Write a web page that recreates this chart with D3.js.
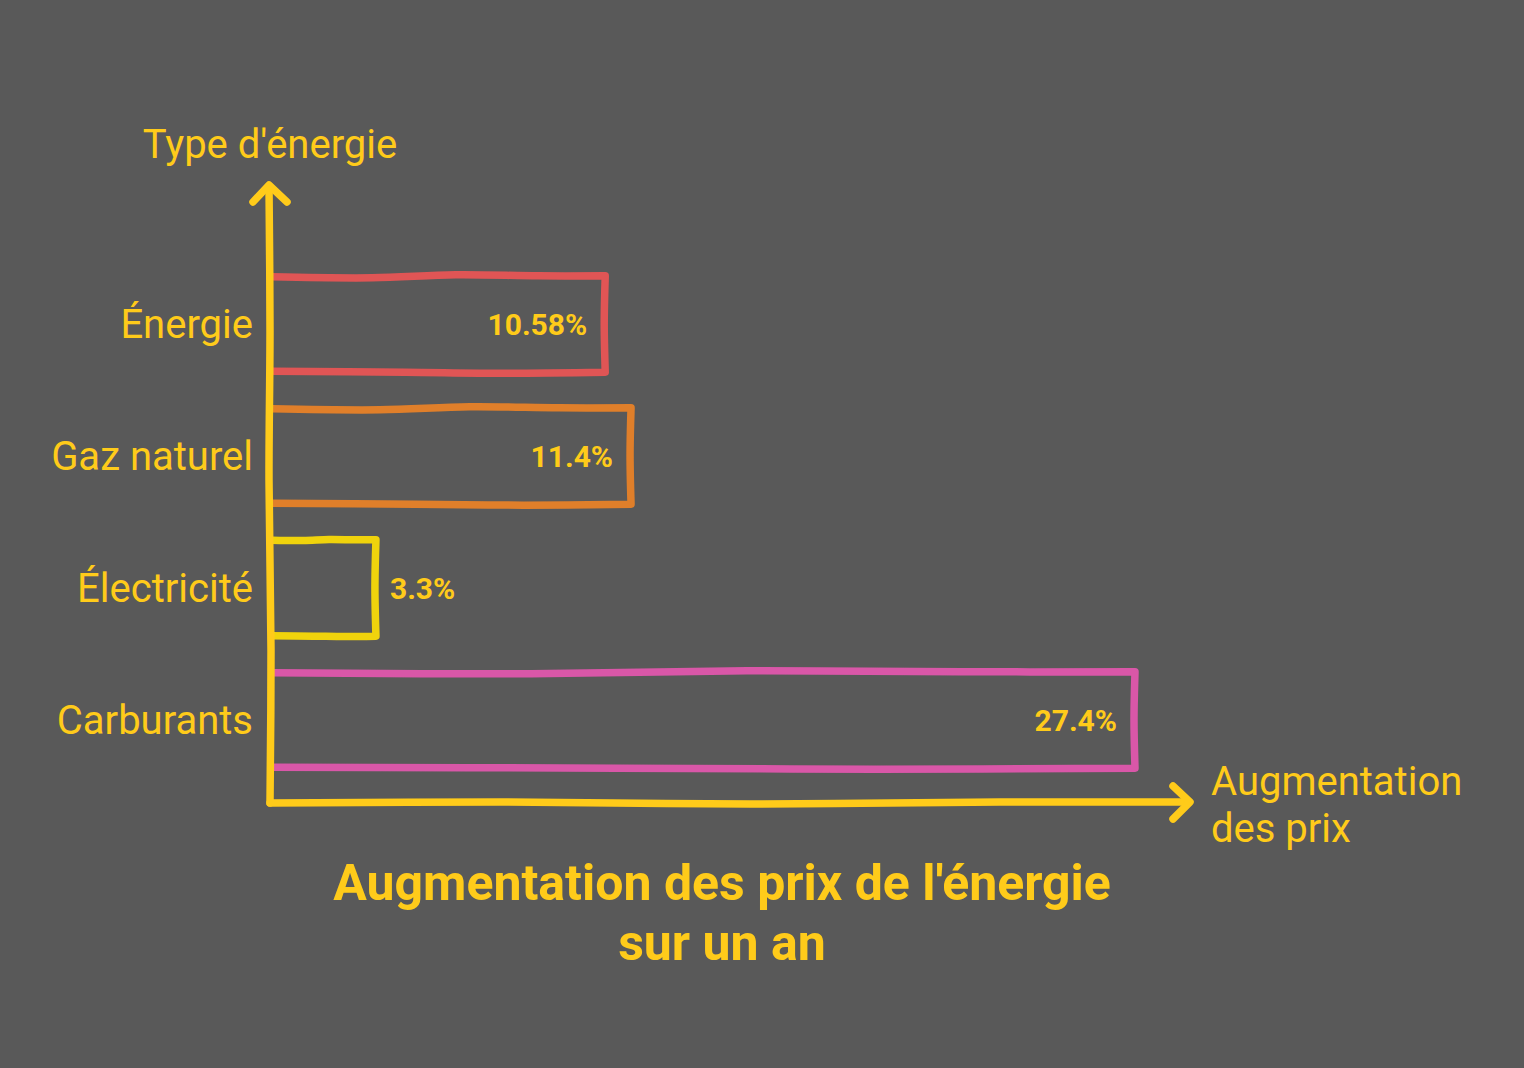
<!DOCTYPE html>
<html><head><meta charset="utf-8">
<script src="https://cdn.jsdelivr.net/npm/d3@7"></script>
<style>html,body{margin:0;padding:0;background:#595959;}svg{display:block;font-family:Roboto,sans-serif;}</style>
</head><body>
<svg id="c" width="1524" height="1068"></svg>
<script>
const categories = ["Énergie", "Gaz naturel", "Électricité", "Carburants"];
const values = [10.58, 11.4, 3.3, 27.4];
const valueLabels = ["10.58%", "11.4%", "3.3%", "27.4%"];
const colors = ["#E05555", "#E07F2A", "#F0D30C", "#D957A8"];
const yTitle = "Type d'énergie";
const xTitle = ["Augmentation", "des prix"];
const title = ["Augmentation des prix de l'énergie", "sur un an"];

const ink = "#FFCB1A";
const svg = d3.select("#c");
svg.append("rect").attr("width",1524).attr("height",1068).attr("fill","#595959");

const x = d3.scaleLinear().domain([0, 27.4]).range([272, 1135]);
const y = d3.scaleBand().domain(categories).range([258, 786]).paddingInner(0.27).paddingOuter(0.135);

const line = d3.line().curve(d3.curveCatmullRom.alpha(0.5));
// hand-drawn-ish outline with small fixed wobble
function sketchRect(x0, y0, x1, y1) {
  const w = x1 - x0;
  const k = Math.min(1, w / 300);
  const top = [[x0, y0+1*k],[x0+w*0.3, y0+2*k],[x0+w*0.55, y0-1*k],[x0+w*0.8, y0],[x1, y0]];
  const right = [[x1, y0],[x1-1, (y0+y1)/2],[x1, y1]];
  const bot = [[x1, y1],[x0+w*0.7, y1+1*k],[x0+w*0.4, y1],[x0, y1-1*k]];
  return line(top) + line(right).replace("M","L") + line(bot).replace("M","L");
}

const g = svg.append("g");
categories.forEach((c, i) => {
  const y0 = y(c), y1 = y(c) + y.bandwidth();
  g.append("path")
    .attr("d", sketchRect(x(0), y0, x(values[i]), y1))
    .attr("fill", "none").attr("stroke", colors[i]).attr("stroke-width", 7.5)
    .attr("stroke-linejoin", "round").attr("stroke-linecap", "round");
  const inside = x(values[i]) - x(0) > 150;
  g.append("text")
    .attr("x", inside ? x(values[i]) - 18 : x(values[i]) + 14)
    .attr("y", y0 + y.bandwidth()/2)
    .attr("dy", "0.35em")
    .attr("text-anchor", inside ? "end" : "start")
    .attr("font-size", 30).attr("font-weight", 700).attr("fill", ink)
    .text(valueLabels[i]);
  g.append("text")
    .attr("x", 253).attr("y", y0 + y.bandwidth()/2).attr("dy", "0.35em")
    .attr("text-anchor", "end").attr("font-size", 40).attr("fill", ink)
    .text(c);
});

// axes
const ax = svg.append("g").attr("fill","none").attr("stroke", ink).attr("stroke-width", 7.5)
  .attr("stroke-linecap","round").attr("stroke-linejoin","round");
ax.append("path").attr("d", line([[270,803],[271,650],[269,480],[270,330],[269,186]]));
ax.append("path").attr("d", "M253,202L269,185L287,202");
ax.append("path").attr("d", line([[270,803],[500,802],[750,804],[1000,802],[1189,802]]));
ax.append("path").attr("d", "M1173,786L1190,802L1173,819");

svg.append("text").attr("x", 270).attr("y", 158).attr("text-anchor","middle")
  .attr("font-size", 40).attr("fill", ink).text(yTitle);
svg.append("text").attr("x", 1211).attr("y", 795).attr("font-size", 40).attr("fill", ink).text(xTitle[0]);
svg.append("text").attr("x", 1211).attr("y", 842).attr("font-size", 40).attr("fill", ink).text(xTitle[1]);

svg.append("text").attr("x", 722).attr("y", 900).attr("text-anchor","middle")
  .attr("font-size", 50).attr("font-weight", 700).attr("fill", ink).text(title[0]);
svg.append("text").attr("x", 722).attr("y", 960).attr("text-anchor","middle")
  .attr("font-size", 50).attr("font-weight", 700).attr("fill", ink).text(title[1]);
</script>
</body></html>
